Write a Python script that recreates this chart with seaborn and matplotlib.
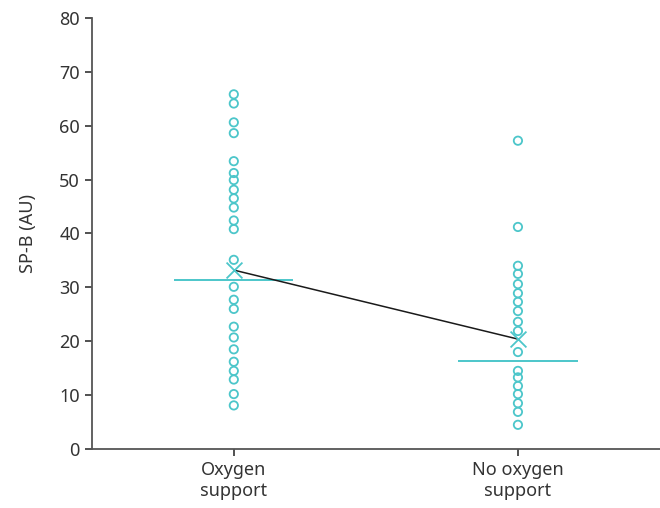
import numpy as np
import pandas as pd
import matplotlib
matplotlib.use('Agg')
import matplotlib.pyplot as plt
import seaborn as sns

# ── data ──────────────────────────────────────────────────────
groups = ['Oxygen\nsupport', 'No oxygen\nsupport']
oxygen = [65.8, 64.1, 60.6, 58.6, 53.4, 51.2, 49.9, 48.1, 46.5, 44.8, 42.4,
          40.8, 35.1, 30.1, 27.7, 26.0, 22.7, 20.7, 18.5, 16.2, 14.5, 12.9,
          10.2, 8.1]
no_oxygen = [57.2, 41.2, 34.0, 32.5, 30.6, 28.9, 27.3, 25.6, 23.6, 21.9, 18.0,
             14.5, 13.3, 11.7, 10.2, 8.5, 6.9, 4.5]
means = [33.2, 20.4]
medians = [31.4, 16.3]

teal = '#4cc6ca'

df = pd.DataFrame({
    'group': [groups[0]] * len(oxygen) + [groups[1]] * len(no_oxygen),
    'value': oxygen + no_oxygen,
})

sns.set_style('ticks')
plt.rcParams['font.family'] = ['Noto Sans', 'DejaVu Sans']

fig = plt.figure(figsize=(6.6, 5.08), dpi=100)
ax = fig.add_axes([0.139, 0.116, 0.861, 0.849])

sns.stripplot(data=df, x='group', y='value', order=groups, jitter=False,
              size=6, linewidth=1.3, ax=ax, color=teal, zorder=3)
for c in ax.collections:
    c.set_facecolor('none')
    c.set_edgecolor(teal)

pos = np.arange(len(groups))
ax.hlines(medians, pos - 0.21, pos + 0.21, color=teal, lw=1.4, zorder=2)
ax.plot(pos, means, color='#1a1a1a', lw=1.1, zorder=2)
ax.scatter(pos, means, marker='x', s=130, color=teal, linewidths=1.3, zorder=4)

ax.set_xlim(-0.5, 1.5)
ax.set_ylim(0, 80)
ax.set_yticks(range(0, 81, 10))
ax.set_xlabel('')
ax.set_ylabel('SP-B (AU)', fontsize=13, color='#333333', labelpad=16)
ax.tick_params(axis='both', labelsize=13, colors='#333333', length=5, width=1.2)
for s in ['left', 'bottom']:
    ax.spines[s].set_color('#555555')
    ax.spines[s].set_linewidth(1.3)
sns.despine(ax=ax)

fig.savefig('out.png', dpi=100)
